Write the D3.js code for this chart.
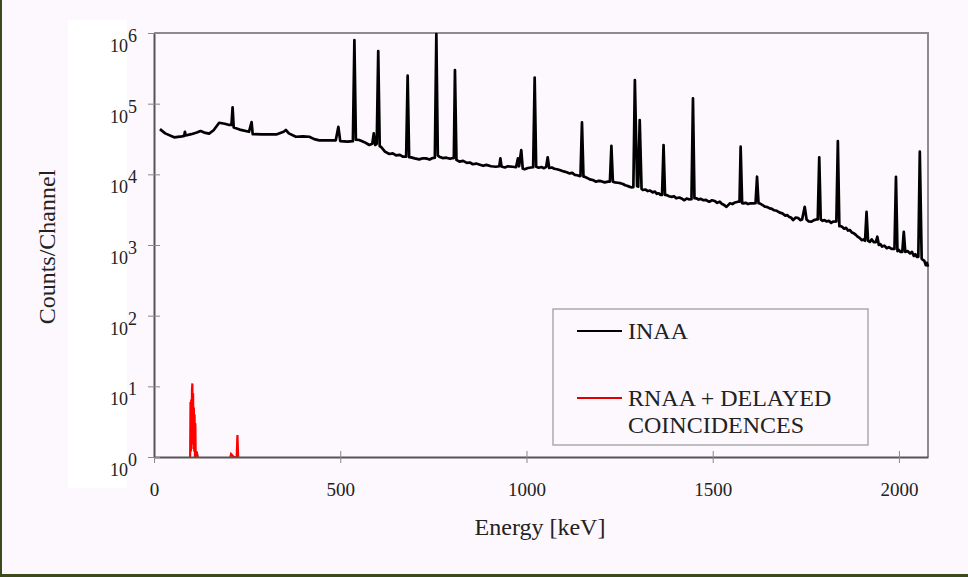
<!DOCTYPE html>
<html>
<head>
<meta charset="utf-8">
<script src="https://cdn.jsdelivr.net/npm/d3@7"></script>
<style>
  html, body { margin: 0; padding: 0; background: #fdf8fd; }
  svg { display: block; }
</style>
</head>
<body>
<div id="chart"></div>
<script>
// INAA spectrum, [energy keV, counts/channel]
const inaa = [
  [16, 43600], [30, 38000], [54, 33400], [75, 34500],
  [81, 35000], [83, 40000], [85, 35500],
  [100, 37000], [115, 39000], [125, 41000], [135, 39000], [148, 37600],
  [160, 42000], [175, 53700], [190, 52000], [202, 50000],
  [208, 50000], [211, 89000], [214, 46000],
  [230, 43000], [255, 40000], [262, 55000], [265, 37000],
  [290, 36800], [330, 36800], [348, 40000], [354, 42400], [362, 38000],
  [381, 34000], [400, 34500], [417, 34000], [430, 31500], [444, 30300],
  [470, 30300], [488, 30300], [495, 47000], [500, 29500],
  [520, 29000], [534, 29500], [538, 795000], [542, 31000],
  [551, 30600], [565, 28500], [578, 26000],
  [586, 27000], [590, 38000], [594, 26000],
  [598, 27000], [602, 556000], [606, 25000],
  [609, 24600], [620, 21000], [632, 19400], [641, 19800], [650, 18500], [660, 18900], [668, 17800],
  [677, 17800], [681, 249000], [685, 17500],
  [690, 17400], [700, 16800], [712, 16300], [722, 16900], [730, 16800], [740, 16200], [748, 17000],
  [754, 17200], [758, 967000], [762, 18500],
  [766, 17800], [775, 17000], [785, 17200], [795, 16600], [802, 17000],
  [805, 17000], [808, 299000], [812, 16000],
  [820, 15100], [830, 15500], [840, 14500], [848, 14700], [856, 13900], [865, 14200],
  [875, 13700], [884, 13200], [892, 13600], [905, 13000], [918, 12800],
  [927, 13000], [930, 16800], [933, 12900],
  [942, 12500], [950, 13000], [963, 12800],
  [972, 12600], [977, 16800], [980, 13000], [986, 22000], [990, 12000],
  [995, 11800], [1004, 12300], [1012, 12500],
  [1018, 12600], [1022, 234000], [1026, 12800],
  [1033, 12400], [1040, 12700], [1047, 12200], [1053, 12800], [1057, 17400], [1061, 12300],
  [1068, 12500], [1075, 12000], [1082, 11800], [1089, 11500], [1100, 11000], [1108, 10700],
  [1116, 10300], [1123, 10500], [1130, 9800], [1136, 9700], [1142, 9460],
  [1145, 9500], [1149, 54500], [1153, 9300],
  [1156, 9250], [1163, 8900], [1170, 8500], [1178, 8300], [1187, 7870], [1194, 8100],
  [1200, 8000], [1210, 7700], [1219, 7870],
  [1224, 7900], [1228, 25200], [1232, 7870],
  [1238, 7700], [1245, 7600], [1252, 7500], [1259, 7300], [1265, 7000], [1270, 6900],
  [1276, 6700], [1281, 6550],
  [1287, 6600], [1291, 216000], [1297, 6800], [1300, 6700], [1304, 58700], [1309, 6200],
  [1313, 6000], [1319, 6100], [1326, 5800], [1332, 5900], [1339, 5560], [1345, 5700],
  [1350, 5300], [1355, 5400], [1360, 5100],
  [1364, 5100], [1368, 26000], [1372, 5100],
  [1376, 5090], [1383, 4900], [1390, 4800], [1396, 4900], [1402, 4580], [1410, 4700],
  [1418, 4500], [1424, 4300], [1430, 4550], [1436, 4430],
  [1443, 4450], [1447, 119000], [1451, 4600],
  [1456, 4580], [1462, 4400], [1468, 4500], [1475, 4300], [1482, 4350], [1488, 4150],
  [1492, 4100], [1498, 4300], [1505, 4200], [1512, 3950], [1519, 4100],
  [1525, 3800], [1530, 3700], [1537, 3470], [1546, 3890], [1553, 3800], [1560, 4000], [1568, 4100],
  [1572, 4100], [1575, 24600], [1579, 3900],
  [1582, 3890], [1588, 3950], [1595, 3800], [1602, 3900], [1608, 3890],
  [1615, 3900], [1619, 9250], [1623, 3900],
  [1626, 3890], [1633, 3700], [1640, 3500], [1646, 3450], [1653, 3300], [1659, 3250],
  [1665, 3100], [1672, 3050], [1680, 2870], [1687, 2800], [1695, 2600], [1700, 2650],
  [1705, 2500], [1710, 2450], [1716, 2260], [1723, 2450], [1730, 2400], [1735, 2250],
  [1740, 2300], [1747, 3470], [1752, 2300],
  [1758, 2150], [1765, 2140], [1772, 2250], [1778, 2300],
  [1782, 2300], [1786, 17400], [1790, 2300],
  [1795, 2200], [1800, 2250], [1806, 2150], [1812, 2200], [1818, 2050], [1823, 2140],
  [1832, 2150], [1836, 29600], [1840, 1850],
  [1844, 1850], [1848, 1800], [1853, 1700], [1858, 1750], [1863, 1600], [1868, 1630],
  [1874, 1500], [1880, 1450], [1885, 1380], [1890, 1300], [1895, 1250], [1900, 1170],
  [1905, 1200], [1909, 1150], [1913, 2950], [1917, 1150],
  [1922, 1110], [1927, 1200], [1932, 1100],
  [1938, 1100], [1942, 1310], [1946, 1000],
  [1950, 1030], [1955, 950], [1961, 980], [1967, 900], [1973, 930], [1980, 880],
  [1988, 880], [1992, 9250], [1996, 820],
  [2000, 850], [2004, 800],
  [2009, 800], [2013, 1540], [2017, 800],
  [2023, 820], [2030, 760], [2035, 800], [2040, 700], [2044, 740], [2048, 680],
  [2052, 680], [2056, 20900], [2061, 640],
  [2064, 615], [2068, 600], [2072, 520], [2075, 560], [2078, 495]
];

// RNAA + delayed coincidences (0 = gap between groups)
const rnaa = [
  [94, 1], [97, 1], [98, 6], [99, 1.2], [100, 6.5], [101, 2], [102, 9],
  [103, 11], [104, 1.5], [105, 8], [106, 1.3], [107, 5], [108, 1.2],
  [109, 4], [110, 1], [111, 3], [112, 1], [114, 1.2], [118, 1],
  [150, 0],
  [205, 1], [207, 1.1], [214, 1], [222, 1], [224, 2.05], [226, 1]
];

const xTicks = [0, 500, 1000, 1500, 2000];
const yExponents = [0, 1, 2, 3, 4, 5, 6];
const legendItems = [
  { lines: ["INAA"], color: "#000" },
  { lines: ["RNAA + DELAYED", "COINCIDENCES"], color: "#e00000" }
];

const width = 968, height = 577;
const margin = { top: 33, right: 40, bottom: 120, left: 154 };
const font = "'Liberation Serif', 'Times New Roman', serif";

const svg = d3.select("#chart").append("svg")
  .attr("width", width)
  .attr("height", height)
  .style("font-family", font);

svg.append("rect")
  .attr("width", width).attr("height", height)
  .attr("fill", "#fdf8fd");

// whiter column behind the y tick labels
svg.append("rect")
  .attr("x", 68).attr("y", 20).attr("width", 59).attr("height", 468)
  .attr("fill", "#ffffff");

// dark frame round the slide
svg.append("rect").attr("x", 0).attr("y", 0).attr("width", 2).attr("height", height).attr("fill", "#3d4a1c");
svg.append("rect").attr("x", 0).attr("y", height - 3).attr("width", width).attr("height", 3).attr("fill", "#3d4a1c");

const x = d3.scaleLinear()
  .domain([0, 2078])
  .range([margin.left, width - margin.right]);

const y = d3.scaleLog()
  .domain([1, 1e6])
  .range([height - margin.bottom, margin.top]);

// frame: top and right in light gray
svg.append("path")
  .attr("d", `M${x(0)},${y(1e6)}H${x(2078)}V${y(1)}`)
  .attr("fill", "none")
  .attr("stroke", "#8c8c8c")
  .attr("stroke-width", 2);

const line = d3.line()
  .defined(d => d[1] > 0)
  .x(d => x(d[0]))
  .y(d => y(d[1]));

svg.append("path")
  .datum(inaa)
  .attr("fill", "none")
  .attr("stroke", "#000")
  .attr("stroke-width", 2.7)
  .attr("stroke-linejoin", "round")
  .attr("d", line);

svg.append("path")
  .datum(rnaa)
  .attr("fill", "none")
  .attr("stroke", "#ff0000")
  .attr("stroke-width", 2.2)
  .attr("d", line);

// axes
const xAxis = svg.append("g")
  .attr("transform", `translate(0,${y(1)})`)
  .call(d3.axisBottom(x).tickValues(xTicks).tickFormat(d3.format("d")).tickSize(6).tickSizeOuter(0).tickPadding(20));
xAxis.select(".domain").attr("stroke", "#555").attr("stroke-width", 2);
xAxis.selectAll(".tick line").attr("y1", -6).attr("stroke", "#888");
xAxis.selectAll(".tick text")
  .attr("fill", "#222")
  .style("font-size", "19px")
  .style("font-family", font);

const yAxis = svg.append("g")
  .attr("transform", `translate(${x(0)},0)`)
  .call(d3.axisLeft(y).tickValues(yExponents.map(e => Math.pow(10, e))).tickSize(6).tickSizeOuter(0).tickFormat(""));
yAxis.select(".domain").attr("stroke", "#555").attr("stroke-width", 2);
yAxis.selectAll(".tick line").attr("x1", -6).attr("x2", 6).attr("stroke", "#888");

// y labels as 10 with a raised exponent
svg.append("g")
  .selectAll("text")
  .data(yExponents)
  .join("text")
  .attr("x", 128)
  .attr("y", e => y(Math.pow(10, e)) + 19)
  .attr("text-anchor", "end")
  .attr("fill", "#222")
  .style("font-size", "18px")
  .text("10");
svg.append("g")
  .selectAll("text")
  .data(yExponents)
  .join("text")
  .attr("x", 128)
  .attr("y", e => y(Math.pow(10, e)) + 9)
  .attr("fill", "#222")
  .style("font-size", "18px")
  .text(e => e);

// axis titles
svg.append("text")
  .attr("x", 540)
  .attr("y", 535)
  .attr("text-anchor", "middle")
  .attr("fill", "#222")
  .style("font-size", "24px")
  .text("Energy [keV]");

svg.append("text")
  .attr("transform", "translate(55,247) rotate(-90)")
  .attr("text-anchor", "middle")
  .attr("fill", "#222")
  .style("font-size", "24px")
  .text("Counts/Channel");

// legend
const legend = svg.append("g");
legend.append("rect")
  .attr("x", 553).attr("y", 309)
  .attr("width", 315).attr("height", 136)
  .attr("fill", "#fdf8fd")
  .attr("stroke", "#aaa")
  .attr("stroke-width", 1.5);

const item = legend.selectAll("g")
  .data(legendItems)
  .join("g")
  .attr("transform", (d, i) => `translate(0,${i === 0 ? 331 : 398})`);

item.append("line")
  .attr("x1", 577).attr("x2", 622)
  .attr("stroke", d => d.color)
  .attr("stroke-width", 2);

item.append("text")
  .attr("x", 628)
  .attr("fill", "#222")
  .style("font-size", "24px")
  .selectAll("tspan")
  .data(d => d.lines)
  .join("tspan")
  .attr("x", 628)
  .attr("y", (d, i) => 8 + i * 27)
  .text(d => d);
</script>
</body>
</html>
